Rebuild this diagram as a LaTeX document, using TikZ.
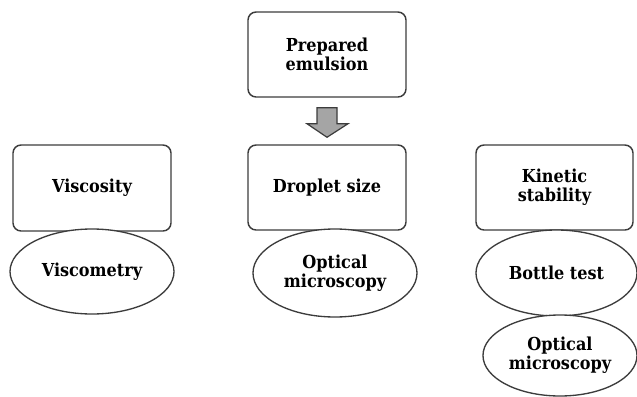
\documentclass[tikz,border=0pt]{standalone}
\usepackage{fontspec}
\setmainfont{DejaVu Serif Condensed}
\usetikzlibrary{shapes.geometric,calc}
\definecolor{edge}{HTML}{3C3C3C}
\definecolor{arrowfill}{HTML}{A5A5A5}
\tikzset{
  lbl/.style={font=\fontsize{13.4}{14.2}\selectfont\bfseries, align=center, text=black},
  stepbox/.style={lbl, draw=edge, line width=1.1pt, rounded corners=6pt, fill=white,
    minimum width=0.75*158pt, minimum height=0.75*85pt, inner sep=0pt},
  method/.style={lbl, draw=edge, line width=1.0pt, ellipse, fill=white, inner sep=0pt},
}
\begin{document}
\begin{tikzpicture}[x=0.75pt, y=-0.75pt]
  \useasboundingbox (0,0) rectangle (637,397);
  \fill[white] (0,0) rectangle (637,397);

  % top box and the three property boxes
  \node[stepbox] (prep) at (327,54.5) {Prepared\\emulsion};
  \node[stepbox, minimum height=0.75*86pt] (visc) at (92,188) {Viscosity};
  \node[stepbox] (drop) at (327,187.5) {Droplet size};
  \node[stepbox, minimum width=0.75*157pt] (kin) at (554.5,187.5) {Kinetic\\stability};

  % measurement methods
  \node[method, minimum width=0.75*164pt, minimum height=0.75*85pt] (viscm) at (92,271.5) {Viscometry};
  \node[method, minimum width=0.75*164pt, minimum height=0.75*88pt] (dropm) at (335,273) {Optical\\microscopy};
  \node[method, minimum width=0.75*161pt, minimum height=0.75*86pt] (bottle) at (556.5,273) {Bottle test};
  \node[method, minimum width=0.75*154pt, minimum height=0.75*81pt] (kinm) at (560,355.5) {Optical\\microscopy};

  % block arrow from the emulsion box down to the droplet size box
  \coordinate (atop) at ($(prep.south)+(0,10)$);
  \coordinate (atip) at ($(drop.north)+(0,-7)$);
  \filldraw[fill=arrowfill, draw=edge, line width=0.9pt, line join=miter]
    ($(atop)+(-10,0)$) -- ($(atop)+(10,0)$) -- ($(atop)+(10,16)$) -- ($(atop)+(21,16)$)
    -- (atip) -- ($(atop)+(-20,16)$) -- ($(atop)+(-10,16)$) -- cycle;
\end{tikzpicture}
\end{document}
